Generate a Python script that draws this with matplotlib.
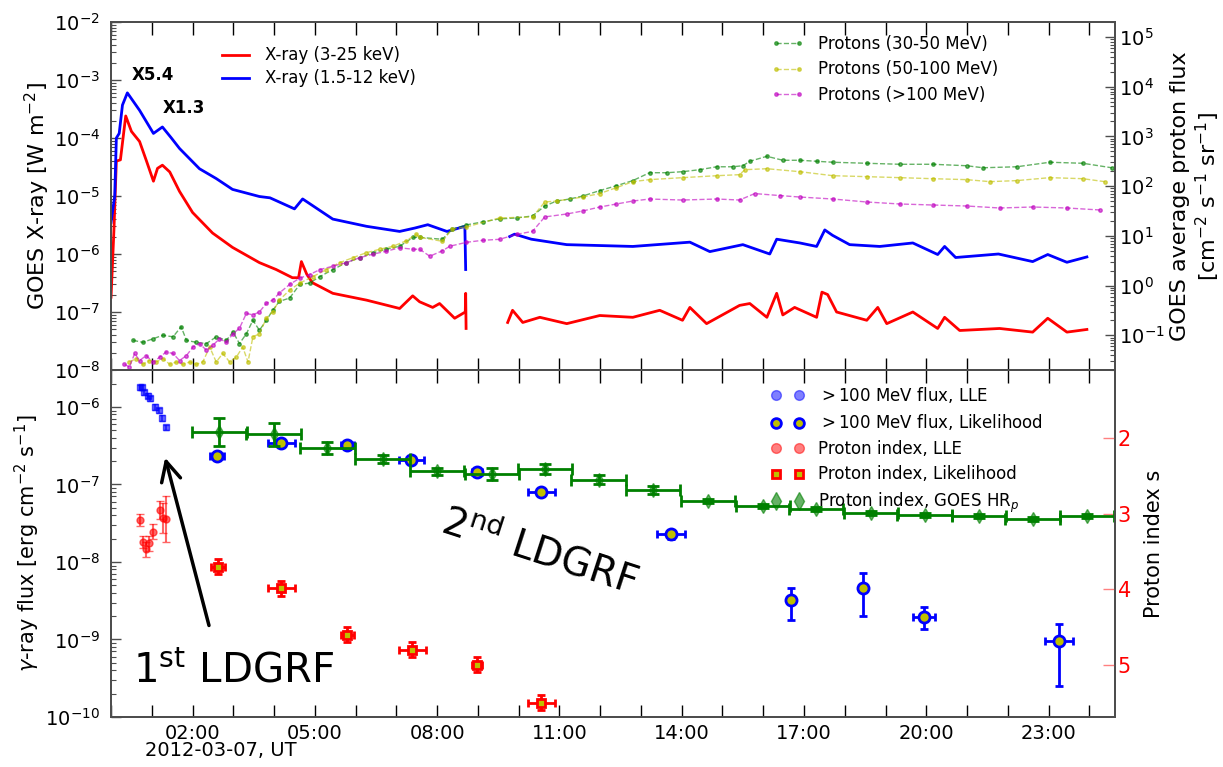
import numpy as np
import matplotlib.pyplot as plt
from matplotlib.lines import Line2D
from matplotlib.ticker import MultipleLocator, FuncFormatter

plt.rcParams['font.family'] = ['DejaVu Sans']
plt.rcParams['mathtext.fontset'] = 'dejavusans'

# ---- GOES X-ray (hours after 2012-03-07 00:00 UT, W m^-2) ----
xray_long_t = [0.00, 0.07, 0.13, 0.23, 0.36, 0.50, 0.70, 0.87, 1.04, 1.14, 1.26, 1.44, 1.68,
               2.00, 2.49, 2.98, 3.64, 4.05, 4.45, 4.60, 4.67, 4.80, 4.94, 5.44, 6.27, 7.08,
               7.40, 7.57, 7.89, 8.06, 8.43, 8.69, 8.70, 8.71, 9.20, 9.73, 9.85, 10.10, 10.52,
               11.18, 11.99, 12.80, 13.46, 14.02, 14.20, 14.61, 15.42, 15.67, 16.09, 16.33,
               16.48, 16.77, 17.31, 17.44, 17.58, 17.80, 18.54, 18.81, 19.03, 19.67, 20.28,
               20.45, 20.82, 21.80, 22.61, 22.98, 23.45, 23.94]
xray_long = [1.8e-7, 2.5e-6, 4.0e-5, 4.2e-5, 2.4e-4, 1.3e-4, 8.7e-5, 4.0e-5, 1.8e-5, 3.0e-5,
             3.4e-5, 2.6e-5, 1.2e-5, 5.2e-6, 2.3e-6, 1.3e-6, 7.1e-7, 5.4e-7, 3.9e-7, 3.9e-7,
             7.4e-7, 4.5e-7, 3.2e-7, 2.1e-7, 1.6e-7, 1.15e-7, 1.9e-7, 1.5e-7, 1.2e-7, 1.4e-7,
             7.8e-8, 1.0e-7, 2.1e-7, 5.2e-8, np.nan, 6.6e-8, 1.07e-7, 6.6e-8, 8.1e-8, 6.3e-8,
             8.7e-8, 8.1e-8, 1.07e-7, 7.2e-8, 1.2e-7, 6.3e-8, 1.3e-7, 1.4e-7, 8.1e-8, 2.1e-7,
             8.9e-8, 1.2e-7, 8.1e-8, 2.2e-7, 2.0e-7, 1.0e-7, 7.2e-8, 1.2e-7, 6.3e-8, 1.0e-7,
             5.2e-8, 8.1e-8, 4.8e-8, 5.2e-8, 4.5e-8, 7.8e-8, 4.5e-8, 5.0e-8]

xray_short_t = [0.00, 0.09, 0.13, 0.20, 0.28, 0.40, 0.70, 1.04, 1.26, 1.48, 1.68, 2.17, 2.58,
                2.98, 3.64, 3.90, 4.50, 4.70, 5.44, 6.27, 7.08, 7.45, 7.77, 8.24, 8.68, 8.70,
                9.20, 9.78, 9.90, 10.31, 11.18, 12.80, 14.20, 14.69, 15.50, 16.16, 16.33,
                16.90, 17.31, 17.51, 17.70, 18.12, 18.86, 19.67, 20.28, 20.45, 20.72, 21.77,
                22.61, 22.98, 23.45, 23.94]
xray_short = [3.5e-6, 1.0e-5, 1.0e-4, 1.2e-4, 3.7e-4, 6.0e-4, 3.0e-4, 1.2e-4, 1.55e-4, 1.0e-4,
              6.6e-5, 2.95e-5, 2.0e-5, 1.3e-5, 9.8e-6, 9.3e-6, 6.0e-6, 8.9e-6, 4.0e-6, 3.0e-6,
              2.45e-6, 2.8e-6, 3.2e-6, 2.45e-6, 3.0e-6, 5.4e-7, np.nan, 2.0e-6, 2.2e-6, 1.8e-6,
              1.45e-6, 1.35e-6, 1.6e-6, 1.1e-6, 1.45e-6, 1.0e-6, 1.8e-6, 1.55e-6, 1.35e-6,
              2.6e-6, 2.1e-6, 1.45e-6, 1.35e-6, 1.55e-6, 9.8e-7, 1.35e-6, 8.7e-7, 1.0e-6,
              7.4e-7, 9.8e-7, 7.2e-7, 8.9e-7]

# ---- GOES proton flux (cm^-2 s^-1 sr^-1) ----
p30_t = [0.54, 0.78, 1.03, 1.27, 1.52, 1.72, 1.85, 2.09, 2.34, 2.58, 2.83, 2.99, 3.15, 3.32,
         3.48, 3.64, 3.81, 3.97, 4.13, 4.38, 4.63, 4.87, 5.12, 5.44, 5.77, 6.10, 6.42, 6.75,
         7.08, 7.41, 7.57, 8.13, 8.36, 8.72, 9.12, 9.53, 9.95, 10.34, 10.64, 10.93, 11.25,
         11.57, 11.99, 12.40, 12.80, 13.21, 13.63, 14.02, 14.44, 14.86, 15.25, 15.50, 15.67,
         16.09, 16.48, 16.90, 17.31, 17.71, 18.54, 19.35, 20.16, 20.99, 21.39, 22.22, 23.03,
         23.84, 24.55]
p30 = [0.079, 0.072, 0.085, 0.10, 0.093, 0.148, 0.079, 0.072, 0.068, 0.093, 0.079, 0.117,
       0.068, 0.107, 0.20, 0.126, 0.20, 0.32, 0.48, 0.56, 1.05, 1.12, 1.51, 2.09, 2.88, 3.63,
       4.57, 5.37, 6.17, 9.33, 9.33, 8.51, 13.5, 16.6, 19.1, 21.9, 22.9, 25.1, 39.8, 50.1,
       55.0, 63.1, 81.3, 102, 129, 186, 186, 195, 214, 245, 245, 257, 316, 398, 331, 331, 316,
       302, 288, 275, 275, 257, 234, 245, 302, 288, 234]

p50_t = [0.45, 0.62, 0.78, 0.94, 1.11, 1.27, 1.44, 1.60, 1.76, 1.93, 2.09, 2.25, 2.42, 2.58,
         2.74, 2.91, 3.07, 3.23, 3.36, 3.48, 3.64, 3.81, 3.97, 4.13, 4.38, 4.63, 4.95, 5.28,
         5.61, 5.93, 6.26, 6.59, 6.92, 7.24, 7.49, 7.57, 8.13, 8.36, 8.72, 9.53, 10.34, 10.64,
         10.93, 11.57, 11.99, 12.40, 12.80, 13.21, 14.02, 14.86, 15.42, 15.55, 16.09, 16.90,
         17.71, 18.54, 19.35, 20.16, 20.99, 21.56, 22.22, 23.03, 23.84, 24.38]
p50 = [0.029, 0.034, 0.026, 0.031, 0.029, 0.034, 0.026, 0.029, 0.026, 0.029, 0.026, 0.029,
       0.058, 0.029, 0.043, 0.029, 0.036, 0.058, 0.029, 0.093, 0.107, 0.22, 0.30, 0.51, 0.81,
       1.12, 1.51, 2.09, 2.88, 3.63, 4.57, 5.37, 6.17, 7.94, 10.7, 9.33, 7.76, 13.5, 15.1,
       22.9, 24.0, 47.9, 50.1, 60.3, 70.8, 93.3, 123, 135, 148, 162, 170, 214, 224, 195, 162,
       155, 148, 141, 135, 123, 129, 148, 141, 123]

p100_t = [0.33, 0.45, 0.58, 0.70, 0.86, 1.03, 1.19, 1.35, 1.52, 1.68, 1.85, 2.01, 2.17, 2.34,
          2.50, 2.66, 2.83, 2.99, 3.15, 3.32, 3.48, 3.64, 3.81, 3.97, 4.13, 4.38, 4.63, 4.87,
          5.12, 5.44, 5.77, 6.10, 6.42, 6.75, 7.08, 7.41, 7.57, 7.82, 8.13, 8.31, 8.72, 9.12,
          9.53, 9.95, 10.34, 10.64, 11.18, 11.57, 11.99, 12.40, 12.80, 13.21, 14.02, 14.86,
          15.42, 15.79, 16.40, 16.90, 17.71, 18.54, 19.35, 20.16, 20.99, 21.80, 22.61, 23.45,
          24.26]
p100 = [0.026, 0.023, 0.043, 0.031, 0.039, 0.029, 0.036, 0.046, 0.043, 0.031, 0.039, 0.058,
        0.068, 0.050, 0.063, 0.085, 0.072, 0.107, 0.138, 0.275, 0.257, 0.295, 0.437, 0.513,
        0.708, 1.05, 1.41, 1.66, 2.09, 2.45, 2.88, 3.63, 4.27, 4.90, 5.75, 5.37, 5.37, 3.89,
        5.01, 6.17, 7.41, 8.13, 8.51, 10.7, 12.3, 24.0, 27.5, 31.6, 38.0, 43.7, 50.1, 55.0,
        52.5, 55.0, 52.5, 70.8, 64.6, 60.3, 55.0, 47.9, 43.7, 41.7, 39.8, 36.3, 38.0, 36.3, 33.1]

# ---- Fermi-LAT gamma-ray flux (erg cm^-2 s^-1) ----
lle_flux_t = [0.70, 0.77, 0.82, 0.90, 0.96, 1.07, 1.17, 1.26, 1.35]
lle_flux = [1.8e-6, 1.8e-6, 1.55e-6, 1.4e-6, 1.3e-6, 1.0e-6, 9.1e-7, 7.2e-7, 5.5e-7]

like_flux_t = [2.59, 4.18, 5.80, 7.37, 8.97, 10.56, 13.73, 16.67, 18.44, 19.94, 23.25]
like_flux = [2.34e-7, 3.47e-7, 3.24e-7, 2.09e-7, 1.45e-7, 7.9e-8, 2.3e-8, 3.2e-9, 4.6e-9,
             1.95e-9, 9.5e-10]
like_flux_lo = [2.1e-7, 3.1e-7, 2.9e-7, 1.9e-7, 1.3e-7, 7.1e-8, 2.0e-8, 1.8e-9, 2.0e-9,
                1.38e-9, 2.5e-10]
like_flux_hi = [2.6e-7, 3.9e-7, 3.6e-7, 2.3e-7, 1.6e-7, 8.8e-8, 2.6e-8, 4.6e-9, 7.2e-9,
                2.6e-9, 1.6e-9]
like_flux_dt = [0.17, 0.34, 0.15, 0.30, 0.12, 0.34, 0.34, 0.0, 0.0, 0.27, 0.34]

# ---- proton spectral index ----
lle_index_t = [0.70, 0.78, 0.86, 0.93, 1.04, 1.19, 1.27, 1.35]
lle_index = [3.08, 3.37, 3.47, 3.39, 3.24, 2.95, 3.06, 3.07]
lle_index_err = [0.08, 0.08, 0.10, 0.10, 0.10, 0.12, 0.20, 0.30]

like_index_t = [2.62, 4.18, 5.80, 7.39, 8.97, 10.56]
like_index = [3.70, 3.99, 4.60, 4.80, 5.00, 5.50]
like_index_err = [0.10, 0.10, 0.10, 0.10, 0.10, 0.10]
like_index_dt = [0.17, 0.34, 0.15, 0.33, 0.12, 0.34]

goes_index_t = [2.66, 3.99, 5.31, 6.66, 7.99, 9.34, 10.64, 11.96, 13.29, 14.64, 15.99, 17.29,
                18.64, 19.96, 21.29, 22.61, 23.94]
goes_index = [1.92, 1.95, 2.13, 2.28, 2.44, 2.48, 2.41, 2.55, 2.69, 2.83, 2.90, 2.94, 2.99,
              3.02, 3.03, 3.07, 3.03]
goes_index_err = [0.18, 0.15, 0.08, 0.05, 0.05, 0.08, 0.06, 0.06, 0.05, 0.03, 0.03, 0.03,
                  0.03, 0.03, 0.03, 0.03, 0.03]
goes_bin_half = 0.667

fig = plt.figure(figsize=(12.23, 7.67), dpi=100)
ax1 = fig.add_axes([0.0908, 0.5176, 0.8209, 0.4537])
ax2 = fig.add_axes([0.0908, 0.0652, 0.8209, 0.4524], sharex=ax1)
ax1r = ax1.twinx()
ax2r = ax2.twinx()

# top panel: X-rays and protons
ax1.plot(xray_long_t, xray_long, color='r', lw=2, label='X-ray (3-25 keV)')
ax1.plot(xray_short_t, xray_short, color='b', lw=2, label='X-ray (1.5-12 keV)')
ax1.set_yscale('log')
ax1.set_ylim(1e-8, 1e-2)
ax1.set_ylabel('GOES X-ray [W m$^{-2}$]', fontsize=16)
ax1.text(0.50, 1.2e-3, 'X5.4', fontsize=12, fontweight='bold', va='center')
ax1.text(1.26, 3.3e-4, 'X1.3', fontsize=12, fontweight='bold', va='center')
ax1.legend(loc='upper left', bbox_to_anchor=(0.1106, 0.93), frameon=False, fontsize=12,
           borderpad=0, borderaxespad=0, handlelength=1.6, handletextpad=1.0,
           labelspacing=0.3)

ax1r.plot(p30_t, p30, '--', marker='.', ms=5, lw=1, color='g', alpha=0.6,
          label='Protons (30-50 MeV)')
ax1r.plot(p50_t, p50, '--', marker='.', ms=5, lw=1, color='y', alpha=0.6,
          label='Protons (50-100 MeV)')
ax1r.plot(p100_t, p100, '--', marker='.', ms=5, lw=1, color='m', alpha=0.6,
          label='Protons (>100 MeV)')
ax1r.set_yscale('log')
ax1r.set_ylim(0.02, 2e5)
ax1r.set_ylabel('GOES average proton flux\n[cm$^{-2}$ s$^{-1}$ sr$^{-1}$]', fontsize=16)
ax1r.legend(loc='upper left', bbox_to_anchor=(0.657, 0.963), frameon=False, fontsize=12,
            numpoints=2, borderpad=0, borderaxespad=0, handlelength=2.0,
            handletextpad=0.85, labelspacing=0.45)

# bottom panel: gamma-ray flux and proton index
ax2.errorbar(lle_flux_t, lle_flux, yerr=np.array(lle_flux) * 0.08, fmt='s', ms=5,
             color='b', alpha=0.6, capsize=2)
flux_yerr = [np.array(like_flux) - np.array(like_flux_lo),
             np.array(like_flux_hi) - np.array(like_flux)]
ax2.errorbar(like_flux_t, like_flux, xerr=like_flux_dt, yerr=flux_yerr, fmt='o', ms=8,
             mfc='y', mec='b', mew=2, ecolor='b', elinewidth=2, capsize=3, capthick=2)
ax2.set_yscale('log')
ax2.set_ylim(1e-10, 3e-6)
ax2.set_ylabel(r'$\gamma$-ray flux [erg cm$^{-2}$ s$^{-1}$]', fontsize=15)

ax2r.errorbar(lle_index_t, lle_index, yerr=lle_index_err, fmt='o', ms=5, color='r',
              alpha=0.6, capsize=3)
ax2r.errorbar(like_index_t, like_index, xerr=like_index_dt, yerr=like_index_err, fmt='s',
              ms=6, mfc='y', mec='r', mew=2, ecolor='r', elinewidth=2, capsize=3, capthick=2)
ax2r.errorbar(goes_index_t, goes_index, xerr=goes_bin_half, yerr=goes_index_err, fmt='none',
              ecolor='g', elinewidth=2, capsize=4, capthick=2)
ax2r.plot(goes_index_t, goes_index, 'd', ms=7, color='g', alpha=0.6)
ax2r.set_ylim(5.69, 1.1)
ax2r.set_yticks([2, 3, 4, 5])
ax2r.set_ylabel('Proton index s', fontsize=15)

ax2.annotate('', xy=(1.31, 2.4e-7), xytext=(2.42, 1.4e-9),
             arrowprops=dict(arrowstyle='->', lw=2.5, color='k', mutation_scale=35))
ax2.text(0.53, 2.75e-10, r'1$^{\rm st}$ LDGRF', fontsize=29, va='baseline')
ax2.text(10.52, 1.35e-8, r'2$^{\rm nd}$ LDGRF', fontsize=28, rotation=-18,
         ha='center', va='center', rotation_mode='anchor')

handles = [
    Line2D([], [], ls='none', marker='o', ms=7, color='b', alpha=0.5),
    Line2D([], [], ls='none', marker='o', ms=7, mfc='y', mec='b', mew=2),
    Line2D([], [], ls='none', marker='o', ms=7, color='r', alpha=0.5),
    Line2D([], [], ls='none', marker='s', ms=6, mfc='y', mec='r', mew=2),
    Line2D([], [], ls='none', marker='d', ms=9, color='g', alpha=0.6),
]
labels = ['$>$100 MeV flux, LLE', '$>$100 MeV flux, Likelihood', 'Proton index, LLE',
          'Proton index, Likelihood', 'Proton index, GOES HR$_p$']
ax2r.legend(handles, labels, loc='upper left', bbox_to_anchor=(0.657, 0.957), frameon=False,
            fontsize=12, numpoints=2, borderpad=0, borderaxespad=0, handlelength=2.0,
            handletextpad=0.85, labelspacing=0.45)

# time axis
ax1.set_xlim(0, 24.63)
ax2.xaxis.set_major_locator(MultipleLocator(1))
ax2.xaxis.set_major_formatter(
    FuncFormatter(lambda h, pos: f'{int(round(h)):02d}:00' if round(h) % 3 == 2 else ''))
ax1.tick_params(axis='x', labelbottom=False)
fig.text(145 / 1223, 1 - 750 / 767, '2012-03-07, UT', fontsize=14, va='center')

for ax in (ax1, ax2):
    ax.tick_params(axis='x', which='major', direction='in', top=True, bottom=True,
                   length=9, width=1, labelsize=14, pad=5)
    ax.tick_params(axis='y', which='major', direction='in', length=7, width=1,
                   labelsize=14, pad=8, color='0.3')
    ax.tick_params(axis='y', which='minor', direction='in', length=3.5, width=0.8,
                   color='0.3')
ax1r.tick_params(axis='y', which='major', direction='in', length=7, width=1,
                 labelsize=14, pad=3, color='0.3')
ax1r.tick_params(axis='y', which='minor', direction='in', length=3.5, width=0.8, color='0.3')
ax2r.tick_params(axis='y', which='major', direction='in', length=9, width=1,
                 labelsize=15, pad=2, color='#ff8080', labelcolor='r')

for ax in (ax1, ax2, ax1r, ax2r):
    for s in ax.spines.values():
        s.set_color('0.3')
        s.set_linewidth(1.3)

ax1.yaxis.set_label_coords(-0.0588, 0.5)
ax2.yaxis.set_label_coords(-0.0687, 0.5)
ax1r.yaxis.set_label_coords(1.0545, 0.5)
ax2r.yaxis.set_label_coords(1.029, 0.5)

fig.savefig('out.png', dpi=100)
